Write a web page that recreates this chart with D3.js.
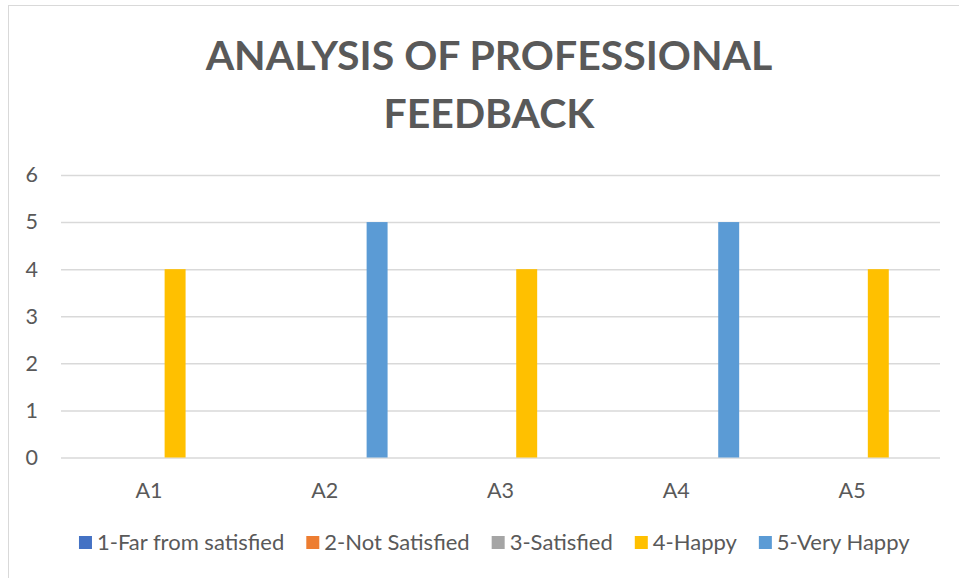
<!DOCTYPE html>
<html>
<head>
<meta charset="utf-8">
<script src="https://cdn.jsdelivr.net/npm/d3@7"></script>
<style>
  html, body { margin: 0; padding: 0; background: #fff; }
  svg { display: block; }
  text { font-family: Lato, "Open Sans", sans-serif; fill: #595959; }
</style>
</head>
<body>
<svg id="chart" width="959" height="578"></svg>
<script>
// Ratings per assessment item, one array per satisfaction level
const categories = ["A1", "A2", "A3", "A4", "A5"];
const seriesNames = ["1-Far from satisfied", "2-Not Satisfied", "3-Satisfied", "4-Happy", "5-Very Happy"];
const farFromSatisfied = [0, 0, 0, 0, 0];
const notSatisfied = [0, 0, 0, 0, 0];
const satisfied = [0, 0, 0, 0, 0];
const happy = [4, 0, 4, 0, 4];
const veryHappy = [0, 5, 0, 5, 0];
const yTicks = [0, 1, 2, 3, 4, 5, 6];
const titleLines = ["ANALYSIS OF PROFESSIONAL", "FEEDBACK"];

const seriesValues = [farFromSatisfied, notSatisfied, satisfied, happy, veryHappy];
const colors = ["#4472C4", "#ED7D31", "#A5A5A5", "#FFC000", "#5B9BD5"];

const svg = d3.select("#chart");
const plot = { left: 61, right: 940, top: 175, bottom: 457.5 };
const labelSize = "21.5px";
const legendSize = "22px";

// Chart frame
svg.append("rect")
  .attr("x", 8.5).attr("y", 5.5)
  .attr("width", 1000).attr("height", 1000)
  .attr("fill", "#fff").attr("stroke", "#D9D9D9").attr("stroke-width", 1);

// Title
svg.append("g").selectAll("text")
  .data(titleLines)
  .join("text")
  .attr("x", 489)
  .attr("y", (d, i) => 70 + i * 58)
  .attr("text-anchor", "middle")
  .style("font-size", "41px")
  .style("font-weight", "bold")
  .text(d => d);

const x0 = d3.scaleBand().domain(categories).range([plot.left, plot.right]).paddingInner(0).paddingOuter(0);
const x1 = d3.scaleBand().domain(seriesNames).range([0, x0.bandwidth()]).paddingInner(0.2).paddingOuter(0.955);
const y = d3.scaleLinear().domain([0, 6]).range([plot.bottom, plot.top]);

// Horizontal gridlines + value labels
const yAxis = d3.axisLeft(y).tickValues(yTicks).tickSize(-(plot.right - plot.left)).tickPadding(23).tickFormat(d3.format("d"));
const gy = svg.append("g").attr("transform", `translate(${plot.left},0)`).call(yAxis);
gy.select(".domain").remove();
gy.selectAll(".tick line").attr("stroke", "#D9D9D9").attr("stroke-width", 1.5);
gy.selectAll(".tick text").style("font-size", labelSize).attr("fill", "#595959");

// Bars
const groups = svg.append("g").selectAll("g")
  .data(categories)
  .join("g")
  .attr("transform", d => `translate(${x0(d)},0)`);

groups.selectAll("rect")
  .data((c, ci) => seriesNames.map((s, si) => ({ series: s, value: seriesValues[si][ci], color: colors[si] })))
  .join("rect")
  .attr("x", d => x1(d.series))
  .attr("width", x1.bandwidth())
  .attr("y", d => y(d.value))
  .attr("height", d => y(0) - y(d.value))
  .attr("fill", d => d.color);

// Category labels
const xAxis = d3.axisBottom(x0).tickSize(0).tickPadding(0);
const gx = svg.append("g").attr("transform", `translate(0,497.5)`).call(xAxis);
gx.select(".domain").remove();
gx.selectAll(".tick text").attr("dy", 0).attr("fill", "#595959").style("font-size", labelSize);

// Legend
const legend = svg.append("g");
const items = legend.selectAll("g").data(seriesNames).join("g");
items.append("rect")
  .attr("width", 13).attr("height", 13)
  .attr("y", 536)
  .attr("fill", (d, i) => colors[i]);
items.append("text")
  .attr("x", 18).attr("y", 550)
  .style("font-size", legendSize)
  .text(d => d);
const widths = [];
items.each(function () {
  const w = d3.select(this).select("text").node().getComputedTextLength();
  widths.push(18 + w);
});
const gap = 22;
const total = d3.sum(widths) + gap * (widths.length - 1);
let cursor = (79.5 + 909) / 2 - total / 2;
items.attr("transform", (d, i) => {
  const t = `translate(${cursor},0)`;
  cursor += widths[i] + gap;
  return t;
});
</script>
</body>
</html>
